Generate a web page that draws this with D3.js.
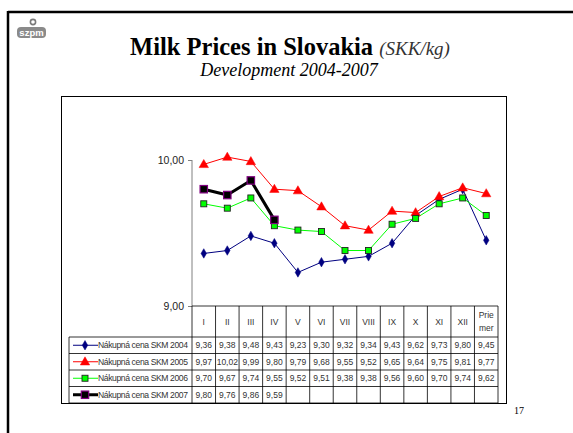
<!DOCTYPE html>
<html><head><meta charset="utf-8">
<script src="https://cdn.jsdelivr.net/npm/d3@7"></script>
<style>body{margin:0;background:#fff}svg{display:block}</style>
</head><body>
<svg id="c" width="573" height="433"></svg>
<script>
const categories = ["I","II","III","IV","V","VI","VII","VIII","IX","X","XI","XII","Priemer"];
const seriesNames = ["Nákupná cena SKM 2004","Nákupná cena SKM 2005","Nákupná cena SKM 2006","Nákupná cena SKM 2007"];
const v2004 = [9.36,9.38,9.48,9.43,9.23,9.30,9.32,9.34,9.43,9.62,9.73,9.80,9.45];
const v2005 = [9.97,10.02,9.99,9.80,9.79,9.68,9.55,9.52,9.65,9.64,9.75,9.81,9.77];
const v2006 = [9.70,9.67,9.74,9.55,9.52,9.51,9.38,9.38,9.56,9.60,9.70,9.74,9.62];
const v2007 = [9.80,9.76,9.86,9.59];
const yTicks = [9, 10];

const svg = d3.select("#c");
const fmt = v => d3.format(".2f")(v).replace(".", ",");

// slide frame
svg.append("line").attr("x1",8).attr("y1",12).attr("x2",573).attr("y2",12).attr("stroke","#000").attr("stroke-width",2.5);
svg.append("line").attr("x1",8).attr("y1",11).attr("x2",8).attr("y2",433).attr("stroke","#000").attr("stroke-width",2.5);

// logo
const logo = svg.append("g");
logo.append("rect").attr("x",17).attr("y",27).attr("width",29).attr("height",11).attr("rx",4).attr("fill","#8a8a8a");
logo.append("circle").attr("cx",33).attr("cy",22).attr("r",2.6).attr("fill","none").attr("stroke","#7a7a7a").attr("stroke-width",1.6);
logo.append("text").attr("x",31.5).attr("y",36).attr("text-anchor","middle").attr("font-family","Liberation Sans, Arial").attr("font-weight","bold").attr("font-size",9.5).attr("fill","#fff").text("szpm");

// title
const t = svg.append("text").attr("x",290).attr("y",55).attr("text-anchor","middle").attr("font-family","Liberation Serif, Times New Roman, serif");
t.append("tspan").attr("font-weight","bold").attr("font-size",24.5).attr("fill","#000").text("Milk Prices in Slovakia ");
t.append("tspan").attr("font-style","italic").attr("font-size",19).attr("fill","#333").text("(SKK/kg)");
svg.append("text").attr("x",289).attr("y",76).attr("text-anchor","middle").attr("font-family","Liberation Serif, Times New Roman, serif")
  .attr("font-style","italic").attr("font-size",18).attr("fill","#000").text("Development 2004-2007");
svg.append("text").attr("x",519).attr("y",414).attr("text-anchor","middle").attr("font-family","Liberation Serif, serif").attr("font-size",10).text("17");

// chart box
svg.append("rect").attr("x",61.5).attr("y",96.5).attr("width",445).attr("height",307).attr("fill","none").attr("stroke","#000").attr("stroke-width",1);

const x = d3.scaleBand().domain(categories).range([192, 498]).padding(0);
const y = d3.scaleLinear().domain([9, 10]).range([306, 160]);

// y axis
const yAxis = d3.axisLeft(y).tickValues(yTicks).tickFormat(fmt).tickSize(4).tickPadding(4);
const ga = svg.append("g").attr("transform","translate(192,0)").call(yAxis);
ga.select(".domain").attr("stroke","#808080").attr("d","M0,160V306");
ga.selectAll(".tick line").attr("stroke","#808080");
ga.selectAll("text").attr("font-family","Liberation Sans, Arial").attr("font-size",10.5).attr("fill","#222");

// table
const rowTop = 306, hdrH = 31, rowH = 16.5, legL = 69;
const tab = svg.append("g").attr("stroke","#000").attr("stroke-width",0.8).attr("fill","none");
const nRows = 4;
const tabBottom = rowTop + hdrH + nRows*rowH;
tab.append("line").attr("x1",192).attr("x2",498).attr("y1",rowTop).attr("y2",rowTop);
for (let r = 0; r <= nRows; r++) {
  const yy = rowTop + hdrH + r*rowH;
  tab.append("line").attr("x1",legL).attr("x2",498).attr("y1",yy).attr("y2",yy);
}
categories.forEach(c => {
  tab.append("line").attr("x1",x(c)).attr("x2",x(c)).attr("y1",rowTop).attr("y2",tabBottom);
});
tab.append("line").attr("x1",498).attr("x2",498).attr("y1",rowTop).attr("y2",tabBottom);
tab.append("line").attr("x1",legL).attr("x2",legL).attr("y1",rowTop+hdrH).attr("y2",tabBottom);

// header labels
const hdr = svg.append("g").attr("font-family","Liberation Sans, Arial").attr("font-size",8.5).attr("fill","#333").attr("text-anchor","middle");
categories.forEach(c => {
  const cx = x(c) + x.bandwidth()/2;
  if (c === "Priemer") {
    hdr.append("text").attr("x",cx).attr("y",rowTop+12).text("Prie");
    hdr.append("text").attr("x",cx).attr("y",rowTop+25).text("mer");
  } else {
    hdr.append("text").attr("x",cx).attr("y",rowTop+18.5).text(c);
  }
});

const series = [
  {name: seriesNames[0], vals: v2004, color:"#000080", width:1, marker:"diamond", fill:"#000080", mstroke:"#000080"},
  {name: seriesNames[1], vals: v2005, color:"#ff0000", width:1, marker:"triangle", fill:"#ff0000", mstroke:"#ff0000"},
  {name: seriesNames[2], vals: v2006, color:"#00ff00", width:1, marker:"square", fill:"#00ff00", mstroke:"#222"},
  {name: seriesNames[3], vals: v2007, color:"#000000", width:3, marker:"bigsquare", fill:"#000000", mstroke:"#800080"}
];

function drawMarker(g, type, cx, cy, s) {
  if (type === "diamond") {
    g.append("path").attr("d", d3.symbol(d3.symbolDiamond, 26)()).attr("transform",`translate(${cx},${cy})`).attr("fill",s.fill).attr("stroke",s.mstroke).attr("stroke-width",0.5);
  } else if (type === "triangle") {
    g.append("path").attr("d", d3.symbol(d3.symbolTriangle, 38)()).attr("transform",`translate(${cx},${cy+0.5})`).attr("fill",s.fill).attr("stroke",s.mstroke).attr("stroke-width",0.5);
  } else if (type === "square") {
    g.append("rect").attr("x",cx-3).attr("y",cy-3).attr("width",6).attr("height",6).attr("fill",s.fill).attr("stroke",s.mstroke).attr("stroke-width",0.9);
  } else {
    g.append("rect").attr("x",cx-3.7).attr("y",cy-3.7).attr("width",7.4).attr("height",7.4).attr("fill",s.fill).attr("stroke",s.mstroke).attr("stroke-width",1.2);
  }
}

const line = d3.line().x((d,i) => x(categories[i]) + x.bandwidth()/2).y(d => y(d));
const plot = svg.append("g");
series.forEach(s => {
  plot.append("path").datum(s.vals).attr("d", line).attr("fill","none").attr("stroke",s.color).attr("stroke-width",s.width).attr("stroke-linejoin","round");
});
series.forEach(s => {
  s.vals.forEach((v,i) => drawMarker(plot, s.marker, x(categories[i]) + x.bandwidth()/2, y(v), s));
});

// table rows
const body = svg.append("g").attr("font-family","Liberation Sans, Arial").attr("font-size",8.5).attr("fill","#333");
series.forEach((s, r) => {
  const cy = rowTop + hdrH + r*rowH + rowH/2;
  body.append("line").attr("x1",73).attr("x2",98).attr("y1",cy).attr("y2",cy).attr("stroke",s.color).attr("stroke-width",s.width);
  drawMarker(body, s.marker, 85, cy, s);
  body.append("text").attr("x",98).attr("y",cy+3).attr("font-size",8.6).attr("textLength",90).attr("lengthAdjust","spacing").text(s.name);
  s.vals.forEach((v,i) => {
    body.append("text").attr("x", x(categories[i]) + x.bandwidth()/2).attr("y", cy+3).attr("text-anchor","middle").text(fmt(v));
  });
});
</script>
</body></html>
